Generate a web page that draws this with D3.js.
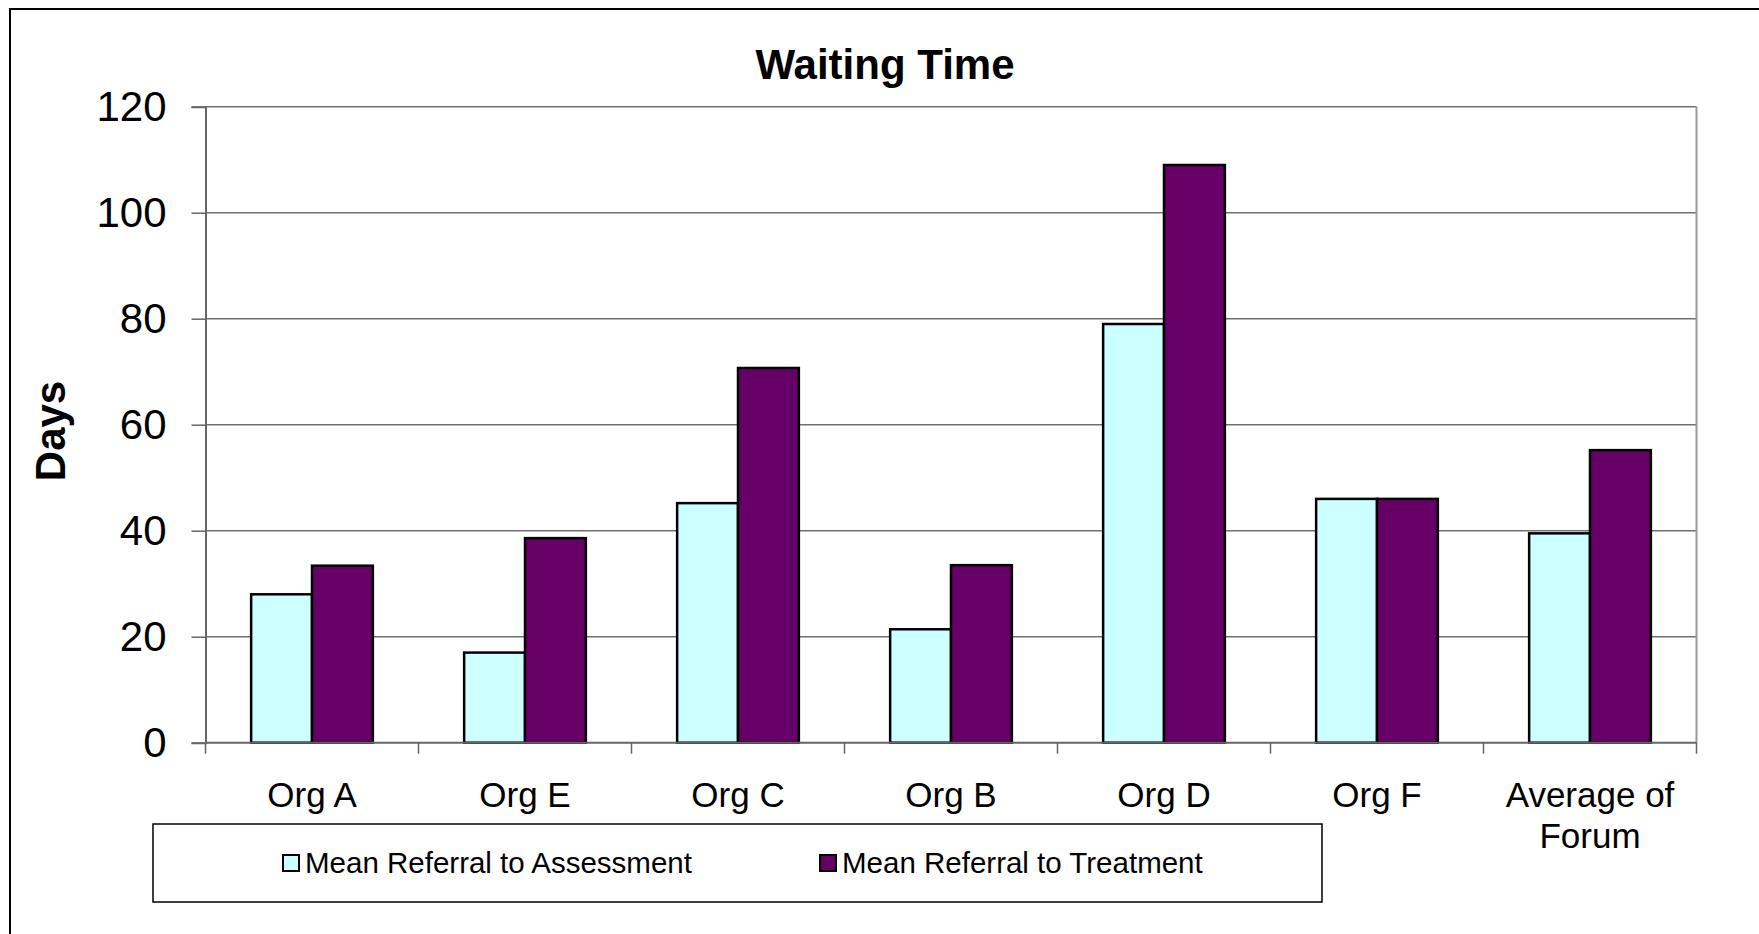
<!DOCTYPE html>
<html>
<head>
<meta charset="utf-8">
<script src="https://cdn.jsdelivr.net/npm/d3@7"></script>
<style>
  body { margin: 0; background: white; }
  svg { display: block; font-family: "Liberation Sans", Arial, sans-serif; }
</style>
</head>
<body>
<svg id="chart" width="1759" height="934"></svg>
<script>
// chart data
const categories = ["Org A", "Org E", "Org C", "Org B", "Org D", "Org F", "Average of Forum"];
const seriesNames = ["Mean Referral to Assessment", "Mean Referral to Treatment"];
const assessment = [28, 17, 45.2, 21.4, 79, 46, 39.5];
const treatment = [33.4, 38.6, 70.7, 33.5, 109, 46, 55.2];
const yTicks = [0, 20, 40, 60, 80, 100, 120];

const seriesColor = {
    "Mean Referral to Assessment": "#ccffff",
    "Mean Referral to Treatment": "#660066"
};

const PLOT = {left: 205.5, right: 1696.5, top: 106.7, bottom: 742.7};

const svg = d3.select("#chart");

// outer chart border (runs off the right/bottom edge like the original)
svg.append("rect")
    .attr("x", 10).attr("y", 9)
    .attr("width", 1770).attr("height", 940)
    .attr("fill", "white")
    .attr("stroke", "black")
    .attr("stroke-width", 2);

const x0 = d3.scaleBand()
    .domain(categories)
    .range([PLOT.left, PLOT.right])
    .padding(0);

const x1 = d3.scaleBand()
    .domain(seriesNames)
    .range([0, x0.bandwidth()])
    .paddingInner(0)
    .paddingOuter(0.75);

const y = d3.scaleLinear()
    .domain([0, 120])
    .range([PLOT.bottom, PLOT.top]);

// gridlines
svg.append("g")
    .selectAll("line")
    .data(yTicks.filter(d => d > 0))
    .join("line")
    .attr("x1", PLOT.left).attr("x2", PLOT.right)
    .attr("y1", d => y(d)).attr("y2", d => y(d))
    .attr("stroke", "#707070")
    .attr("stroke-width", 1.5);

// plot area right border
svg.append("line")
    .attr("x1", PLOT.right).attr("x2", PLOT.right)
    .attr("y1", PLOT.top).attr("y2", PLOT.bottom)
    .attr("stroke", "#9a9a9a")
    .attr("stroke-width", 2);

// bars
const rows = categories.map((c, i) => ({
    cat: c,
    values: [
        {key: seriesNames[0], value: assessment[i]},
        {key: seriesNames[1], value: treatment[i]}
    ]
}));

svg.append("g")
    .selectAll("g")
    .data(rows)
    .join("g")
    .attr("transform", d => `translate(${x0(d.cat)},0)`)
    .selectAll("rect")
    .data(d => d.values)
    .join("rect")
    .attr("x", d => x1(d.key))
    .attr("width", x1.bandwidth())
    .attr("y", d => y(d.value))
    .attr("height", d => y(0) - y(d.value))
    .attr("fill", d => seriesColor[d.key])
    .attr("stroke", "black")
    .attr("stroke-width", 2.5);

// y axis
const yAxis = svg.append("g")
    .attr("transform", `translate(${PLOT.left},0)`)
    .call(d3.axisLeft(y).tickValues(yTicks).tickSize(14).tickPadding(25).tickFormat(d3.format("d")));
yAxis.select(".domain").attr("stroke", "#666").attr("stroke-width", 2);
yAxis.selectAll(".tick line").attr("stroke", "#666").attr("stroke-width", 1.5);
yAxis.selectAll(".tick text")
    .attr("fill", "black")
    .style("font-size", "42px")
    .style("font-family", "'Liberation Sans', Arial, sans-serif");

// x axis line + boundary ticks
svg.append("line")
    .attr("x1", PLOT.left).attr("x2", PLOT.right)
    .attr("y1", PLOT.bottom).attr("y2", PLOT.bottom)
    .attr("stroke", "#666")
    .attr("stroke-width", 2);

const bounds = categories.map(c => x0(c)).concat([x0.range()[1]]);
svg.append("g")
    .selectAll("line")
    .data(bounds)
    .join("line")
    .attr("x1", d => d).attr("x2", d => d)
    .attr("y1", PLOT.bottom).attr("y2", PLOT.bottom + 11)
    .attr("stroke", "#666")
    .attr("stroke-width", 1.5);

// x labels, wrapped like excel does
const wrapLabel = {"Average of Forum": ["Average of", "Forum"]};
svg.append("g")
    .selectAll("text")
    .data(categories)
    .join("text")
    .attr("x", d => x0(d) + x0.bandwidth() / 2)
    .attr("y", 807)
    .attr("text-anchor", "middle")
    .style("font-size", "35px")
    .each(function(d) {
        const lines = wrapLabel[d] || [d];
        d3.select(this).selectAll("tspan")
            .data(lines)
            .join("tspan")
            .attr("x", x0(d) + x0.bandwidth() / 2)
            .attr("dy", (l, i) => i === 0 ? 0 : 41)
            .text(l => l);
    });

// title
svg.append("text")
    .attr("x", 885)
    .attr("y", 79)
    .attr("text-anchor", "middle")
    .style("font-size", "42px")
    .style("font-weight", "bold")
    .text("Waiting Time");

// y axis title
svg.append("text")
    .attr("transform", "translate(65,431) rotate(-90)")
    .attr("text-anchor", "middle")
    .style("font-size", "42px")
    .style("font-weight", "bold")
    .text("Days");

// legend
const legend = svg.append("g");
legend.append("rect")
    .attr("x", 153).attr("y", 824)
    .attr("width", 1169).attr("height", 78)
    .attr("fill", "white")
    .attr("stroke", "black")
    .attr("stroke-width", 1.5);

const legendX = [283, 820];
const item = legend.selectAll("g.item")
    .data(seriesNames)
    .join("g")
    .attr("class", "item")
    .attr("transform", (d, i) => `translate(${legendX[i]},855)`);

item.append("rect")
    .attr("width", 16).attr("height", 16)
    .attr("fill", d => seriesColor[d])
    .attr("stroke", "black")
    .attr("stroke-width", 2);

item.append("text")
    .attr("x", 22)
    .attr("y", 18)
    .style("font-size", "29.5px")
    .text(d => d);
</script>
</body>
</html>
